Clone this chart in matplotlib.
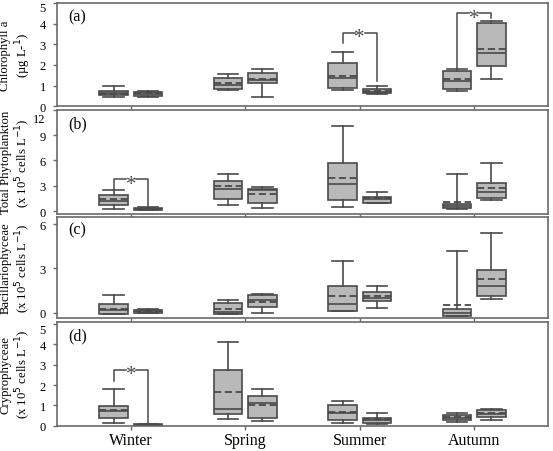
import matplotlib
matplotlib.use("Agg")
import matplotlib.pyplot as plt
from matplotlib.transforms import ScaledTranslation
import numpy as np

plt.rcParams['font.family'] = ['Liberation Serif', 'DejaVu Serif']

seasons = ['Winter', 'Spring', 'Summer', 'Autumn']

# order of boxes: Winter L/R, Spring L/R, Summer L/R, Autumn L/R
# (a) Chlorophyll a
chl_lo = [0.42, 0.45, 0.78, 0.44, 0.78, 0.60, 0.73, 1.34]
chl_q1 = [0.52, 0.50, 0.81, 1.10, 0.89, 0.62, 0.84, 1.94]
chl_med = [0.63, 0.60, 1.02, 1.26, 1.38, 0.70, 1.22, 2.59]
chl_mean = [0.58, 0.62, 1.12, 1.34, 1.46, 0.74, 1.32, 2.75]
chl_q3 = [0.71, 0.70, 1.38, 1.59, 2.11, 0.84, 1.70, 4.05]
chl_hi = [0.97, 0.72, 1.54, 1.82, 2.62, 0.97, 1.78, 4.13]

# (b) Total phytoplankton
tot_lo = [0.31, 0.10, 0.70, 0.39, 0.55, 1.00, 0.30, 1.29]
tot_q1 = [0.74, 0.15, 1.41, 0.94, 1.29, 1.02, 0.35, 1.57]
tot_med = [1.21, 0.25, 2.59, 2.55, 3.18, 1.41, 0.59, 2.32]
tot_mean = [1.41, 0.28, 2.98, 2.00, 3.96, 1.50, 1.10, 2.74]
tot_q3 = [1.88, 0.40, 3.56, 2.67, 5.65, 1.73, 0.82, 3.38]
tot_hi = [2.47, 0.45, 4.35, 2.86, 10.04, 2.27, 4.35, 5.65]

# (c) Bacillariophyceae
bac_lo = [-0.08, 0.00, -0.08, 0.00, 0.10, 0.32, -0.25, 0.92]
bac_q1 = [-0.08, 0.00, -0.08, 0.39, 0.14, 0.77, -0.25, 1.10]
bac_med = [0.20, 0.08, 0.05, 0.88, 0.59, 1.00, 0.00, 1.82]
bac_mean = [0.28, 0.10, 0.25, 0.73, 1.11, 1.16, 0.50, 2.29]
bac_q3 = [0.58, 0.15, 0.66, 1.22, 1.82, 1.41, 0.25, 2.89]
bac_hi = [1.22, 0.22, 0.85, 1.27, 3.49, 1.82, 4.16, 5.41]

# (d) Cryptophyceae
cry_lo = [0.13, 0.00, 0.33, 0.22, 0.13, 0.08, 0.20, 0.30]
cry_q1 = [0.38, 0.00, 0.58, 0.36, 0.30, 0.13, 0.30, 0.41]
cry_med = [0.72, 0.03, 0.82, 1.12, 0.63, 0.30, 0.40, 0.58]
cry_mean = [0.78, 0.04, 1.68, 1.02, 0.66, 0.32, 0.42, 0.62]
cry_q3 = [0.96, 0.07, 2.76, 1.48, 1.02, 0.40, 0.53, 0.79]
cry_hi = [1.81, 0.08, 4.10, 1.81, 1.20, 0.61, 0.63, 0.80]

# significance brackets: (season index, top, left leg end, right leg end)
chl_sig = [(2, 3.56, 3.08, 1.21), (3, 4.50, 1.85, 4.29)]
tot_sig = [(0, 3.76, 2.60, 0.60)]
bac_sig = []
cry_sig = [(0, 2.74, 2.20, 0.13)]

# tag, ylabel, yticks, ylim, stats, brackets, [y0, height], top-label nudge (px)
panels = [
    ('(a)', 'Chlorophyll a\n(µg L-$^{1}$)', [0, 1, 2, 3, 4, 5], (0, 5.0),
     (chl_lo, chl_q1, chl_med, chl_mean, chl_q3, chl_hi), chl_sig, [0.763, 0.228], 3),
    ('(b)', 'Total Phytoplankton\n(x 10$^5$ cells L$^{-1}$)', [0, 3, 6, 9, 12], (-0.3, 12.0),
     (tot_lo, tot_q1, tot_med, tot_mean, tot_q3, tot_hi), tot_sig, [0.525, 0.230], 8),
    ('(c)', 'Bacillariophyceae\n(x 10$^5$ cells L$^{-1}$)', [0, 3, 6], (-0.37, 6.5),
     (bac_lo, bac_q1, bac_med, bac_mean, bac_q3, bac_hi), bac_sig, [0.294, 0.2245], 0),
    ('(d)', 'Cryprophyceae\n(x 10$^5$ cells L$^{-1}$)', [0, 1, 2, 3, 4, 5], (0, 5.13),
     (cry_lo, cry_q1, cry_med, cry_mean, cry_q3, cry_hi), cry_sig, [0.056, 0.2305], 4),
]

fill = '#b9b9b9'
edge = '#4a4a4a'
spine = '#6a6a6a'
off = 0.15

fig = plt.figure(figsize=(5.53, 4.52), dpi=100)
centers = np.arange(1, len(seasons) + 1)
pos = np.ravel([[c - off, c + off] for c in centers])

for i, (tag, ylab, yt, ylim, st, sig, (y0, h), nudge) in enumerate(panels):
    ax = fig.add_axes([0.103, y0, 0.888, h])
    lo, q1, med, mean, q3, hi = st
    stats = [dict(whislo=lo[k], q1=q1[k], med=med[k], mean=mean[k], q3=q3[k],
                  whishi=hi[k], fliers=[]) for k in range(len(pos))]
    ax.bxp(stats, positions=pos, widths=0.25, capwidths=0.18, showmeans=True,
           meanline=True, showfliers=False, patch_artist=True,
           boxprops=dict(facecolor=fill, edgecolor=edge, linewidth=1.2),
           medianprops=dict(color=edge, linewidth=1.2),
           meanprops=dict(color=edge, linestyle=(0, (4, 2)), linewidth=1.3),
           whiskerprops=dict(color=edge, linewidth=1.2),
           capprops=dict(color=edge, linewidth=1.2))
    for s, top, lend, rend in sig:
        xl, xr = centers[s] - off, centers[s] + off
        xm = centers[s]
        ax.plot([xl, xl, xm - 0.045], [lend, top, top], color=edge, lw=1.1)
        ax.plot([xm + 0.045, xr, xr], [top, top, rend], color=edge, lw=1.1)
        ax.annotate('*', (xm, top), xytext=(0, -3.5), textcoords='offset points',
                    ha='center', va='center', fontsize=15, color=edge)
    ax.set_xlim(0.354, 4.646)
    ax.set_ylim(*ylim)
    ax.set_yticks(yt)
    ax.set_xticks(centers)
    if i == 3:
        ax.set_xticklabels(seasons, fontsize=11.5)
    else:
        ax.set_xticklabels([])
    ax.tick_params(axis='both', direction='out', length=3, width=1, color=spine,
                   labelsize=9)
    ax.tick_params(axis='y', pad=5)
    ax.tick_params(axis='x', labelsize=11.5, pad=1.5)
    if nudge:
        lab = ax.yaxis.get_major_ticks()[-1].label1
        lab.set_transform(lab.get_transform() +
                          ScaledTranslation(0, -nudge / 100, fig.dpi_scale_trans))
    for sp in ax.spines.values():
        sp.set_color(spine)
        sp.set_linewidth(1.2)
    ax.set_ylabel(ylab, fontsize=9.2, linespacing=1.2)
    ax.yaxis.set_label_coords(-0.048, 0.5)
    ax.text(0.022, 0.87, tag, transform=ax.transAxes, fontsize=11.5, va='center')

fig.savefig('out.png', dpi=100)
